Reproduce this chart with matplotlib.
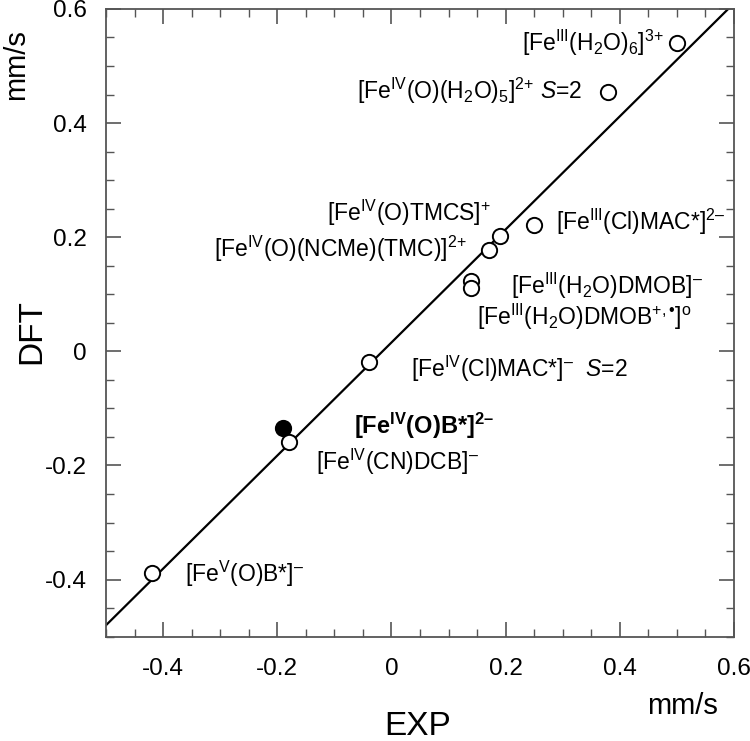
import matplotlib
matplotlib.use("Agg")
import matplotlib.pyplot as plt
from matplotlib.ticker import FixedLocator, MultipleLocator, FixedFormatter

plt.rcParams['font.family'] = ['Liberation Sans', 'DejaVu Sans']
plt.rcParams['mathtext.fontset'] = 'custom'
plt.rcParams['mathtext.rm'] = 'Liberation Sans'
plt.rcParams['mathtext.it'] = 'Liberation Sans:italic'
plt.rcParams['mathtext.bf'] = 'Liberation Sans:bold'
plt.rcParams['axes.unicode_minus'] = False

# ---- data ----
names = [
    r"[Fe$^{\mathrm{III}}$(H$_2$O)$_6$]$^{\mathrm{3{+}}}$",
    r"[Fe$^{\mathrm{IV}}$(O)(H$_2$O)$_5$]$^{\mathrm{2{+}}}$ $\mathit{S}$=2",
    r"[Fe$^{\mathrm{III}}$(Cl)MAC*]$^{\mathrm{2–}}$",
    r"[Fe$^{\mathrm{IV}}$(O)TMCS]$^{\mathrm{+}}$",
    r"[Fe$^{\mathrm{IV}}$(O)(NCMe)(TMC)]$^{\mathrm{2{+}}}$",
    r"[Fe$^{\mathrm{III}}$(H$_2$O)DMOB]$^{\mathrm{–}}$",
    r"[Fe$^{\mathrm{III}}$(H$_2$O)DMOB$^{\mathrm{+,•}}$]$^{\mathrm{o}}$",
    r"[Fe$^{\mathrm{IV}}$(Cl)MAC*]$^{\mathrm{–}}$  $\mathit{S}$=2",
    r"[Fe$^{\mathbf{IV}}$(O)B*]$^{\mathbf{2–}}$",
    r"[Fe$^{\mathrm{IV}}$(CN)DCB]$^{\mathrm{–}}$",
    r"[Fe$^{\mathrm{V}}$(O)B*]$^{\mathrm{–}}$",
]
exp_vals = [0.50, 0.38, 0.25, 0.19, 0.17, 0.14, 0.14, -0.04, -0.19, -0.18, -0.42]
dft_vals = [0.54, 0.455, 0.222, 0.202, 0.177, 0.124, 0.111, -0.018, -0.135, -0.158, -0.388]
filled = [False, False, False, False, False, False, False, False, True, False, False]

fit_slope = 0.991
fit_intercept = 0.0155
fit_x = [-0.5, 0.6]

major_ticks = [-0.4, -0.2, 0.0, 0.2, 0.4, 0.6]
tick_labels = ["-0.4", "-0.2", "0", "0.2", "0.4", "0.6"]

# label placement (x, y, ha, bold)
label_pos = [
    (0.477, 0.540, 'right', False),
    (0.334, 0.456, 'right', False),
    (0.288, 0.226, 'left', False),
    (0.175, 0.243, 'right', False),
    (0.133, 0.179, 'right', False),
    (0.210, 0.114, 'left', False),
    (0.149, 0.060, 'left', False),
    (0.035, -0.031, 'left', False),
    (-0.066, -0.131, 'left', True),
    (-0.133, -0.194, 'left', False),
    (-0.362, -0.390, 'left', False),
]

fig = plt.figure(figsize=(7.5, 7.41), dpi=100)
ax = fig.add_axes([0.1413, 0.1408, 0.8374, 0.8471])

fy = [fit_slope * v + fit_intercept for v in fit_x]
ax.plot(fit_x, fy, color='black', lw=1.6, zorder=2)

for xv, yv, f in zip(exp_vals, dft_vals, filled):
    ax.plot([xv], [yv], 'o', ms=11, mec='black', mew=1.4,
            mfc='black' if f else 'white', zorder=3)

for name, (lx, ly, ha, bold) in zip(names, label_pos):
    ax.text(lx, ly, name, ha=ha, va='center', fontsize=17 if bold else 16.5,
            fontweight='bold' if bold else 'normal')

ax.set_xlim(-0.5, 0.6)
ax.set_ylim(-0.5, 0.6)
for axis in (ax.xaxis, ax.yaxis):
    axis.set_major_locator(FixedLocator(major_ticks))
    axis.set_major_formatter(FixedFormatter(tick_labels))
    axis.set_minor_locator(MultipleLocator(0.05))

spine_col = '#555555'
for s in ax.spines.values():
    s.set_color(spine_col)
    s.set_linewidth(1.3)
ax.tick_params(which='both', direction='in', top=True, right=True, colors=spine_col,
               labelcolor='black', labelsize=17.5)
ax.tick_params(which='major', length=11, width=1.2)
ax.tick_params(which='minor', length=6, width=1.0)
ax.tick_params(axis='x', pad=15)
ax.tick_params(axis='y', pad=14)

fig.text(32 / 750, 1 - 332 / 741, "DFT", rotation=90, ha='center', va='center', fontsize=24)
fig.text(418 / 750, 1 - 735 / 741, "EXP", ha='center', va='baseline', fontsize=24)
fig.text(16 / 750, 1 - 65 / 741, "mm/s", rotation=90, ha='center', va='center', fontsize=21)
fig.text(683 / 750, 1 - 706 / 741, "mm/s", ha='center', va='center', fontsize=21)

fig.savefig("out.png", dpi=100)
